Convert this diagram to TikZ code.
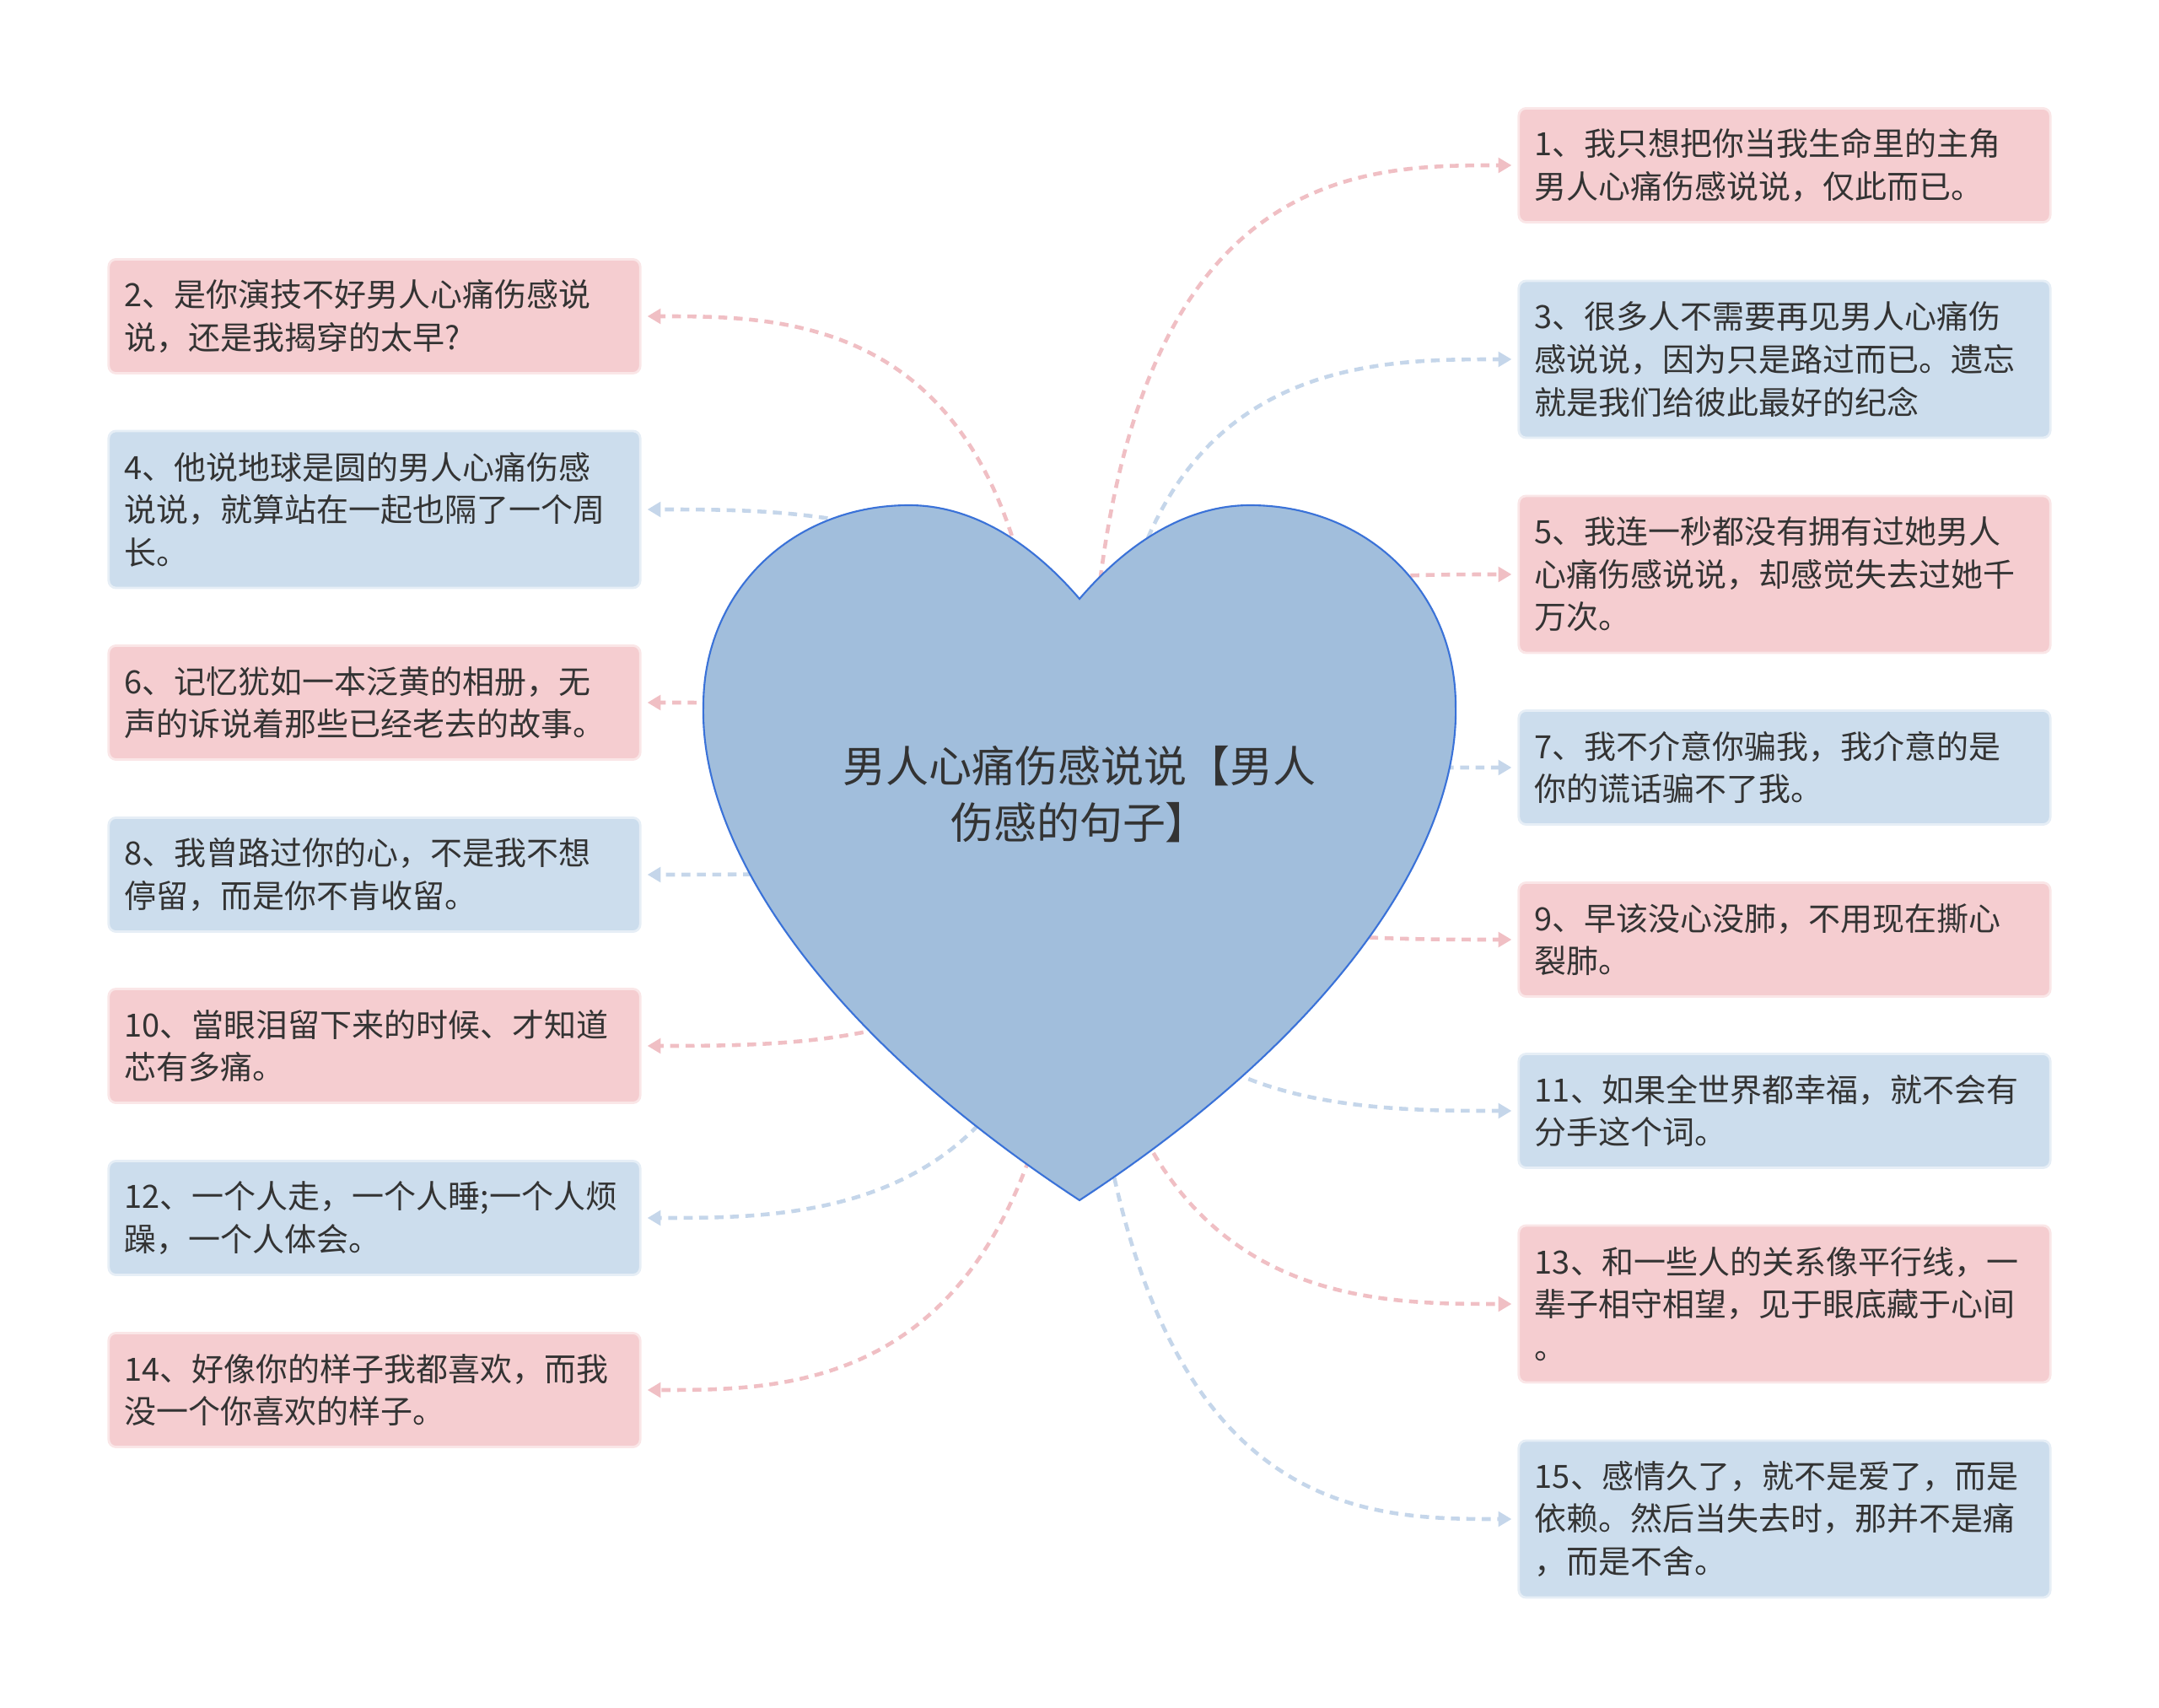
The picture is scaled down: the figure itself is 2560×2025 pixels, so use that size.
\documentclass[tikz,border=0pt]{standalone}
\usepackage{fontspec}
\newfontfamily\cjk{Noto Sans CJK SC}
\usetikzlibrary{arrows.meta,backgrounds,calc}
\definecolor{pinkbox}{HTML}{F5CDD0}
\definecolor{bluebox}{HTML}{CCDDED}
\definecolor{pinkline}{HTML}{F0BFC4}
\definecolor{blueline}{HTML}{C5D6EA}
\definecolor{heartfill}{HTML}{A1BEDC}
\definecolor{heartline}{HTML}{3A72D8}
\definecolor{txt}{HTML}{333333}
\begin{document}
\begin{tikzpicture}[x=0.01cm,y=-0.01cm,
    box/.style={rounded corners=2.5pt,text width=5.92cm,inner xsep=0.19cm,inner ysep=0pt,align=left,
        font=\cjk\fontsize{10.8pt}{14.4pt}\selectfont,text=txt,line width=0.8pt},
    two/.style={minimum height=1.35cm},
    three/.style={minimum height=1.86cm},
    pinkb/.style={box,fill=pinkbox,draw=pinkbox!50!white},
    blueb/.style={box,fill=bluebox,draw=bluebox!50!white},
    link/.style={line width=1.3pt,dash pattern=on 3pt off 2.2pt,-{Triangle[length=4.5pt,width=5pt]},shorten >=2pt}]
    \useasboundingbox (0,0) rectangle (2560,2025);
    \node [pinkb,two] (b1) at (2116,196) {1、我只想把你当我生命里的主角\\男人心痛伤感说说，仅此而已。};
    \node [blueb,three] (b3) at (2116,426) {3、很多人不需要再见男人心痛伤\\感说说，因为只是路过而已。遗忘\\就是我们给彼此最好的纪念};
    \node [pinkb,three] (b5) at (2116,681) {5、我连一秒都没有拥有过她男人\\心痛伤感说说，却感觉失去过她千\\万次。};
    \node [blueb,two] (b7) at (2116,910) {7、我不介意你骗我，我介意的是\\你的谎话骗不了我。};
    \node [pinkb,two] (b9) at (2116,1114) {9、早该没心没肺，不用现在撕心\\裂肺。};
    \node [blueb,two] (b11) at (2116,1317) {11、如果全世界都幸福，就不会有\\分手这个词。};
    \node [pinkb,three] (b13) at (2116,1546) {13、和一些人的关系像平行线，一\\辈子相守相望，见于眼底藏于心间\\。};
    \node [blueb,three] (b15) at (2116,1801) {15、感情久了，就不是爱了，而是\\依赖。然后当失去时，那并不是痛\\，而是不舍。};
    \node [pinkb,two] (b2) at (444,375) {2、是你演技不好男人心痛伤感说\\说，还是我揭穿的太早?};
    \node [blueb,three] (b4) at (444,604) {4、他说地球是圆的男人心痛伤感\\说说，就算站在一起也隔了一个周\\长。};
    \node [pinkb,two] (b6) at (444,833) {6、记忆犹如一本泛黄的相册，无\\声的诉说着那些已经老去的故事。};
    \node [blueb,two] (b8) at (444,1037) {8、我曾路过你的心，不是我不想\\停留，而是你不肯收留。};
    \node [pinkb,two] (b10) at (444,1240) {10、當眼泪留下来的时候、才知道\\芯有多痛。};
    \node [blueb,two] (b12) at (444,1444) {12、一个人走，一个人睡;一个人烦\\躁，一个人体会。};
    \node [pinkb,two] (b14) at (444,1648) {14、好像你的样子我都喜欢，而我\\没一个你喜欢的样子。};
    \draw [fill=heartfill,draw=heartline,line width=0.6pt] (1280,710)
        .. controls (1340,640) and (1410,599) .. (1482,599)
        .. controls (1620,599) and (1726,700) .. (1726,837)
        .. controls (1730,1000) and (1590,1220) .. (1280,1423)
        .. controls (970,1220) and (830,1000) .. (834,837)
        .. controls (834,700) and (940,599) .. (1078,599)
        .. controls (1150,599) and (1220,640) .. (1280,710) -- cycle;
    \node [align=center,text=txt,font=\cjk\fontsize{14.5pt}{19pt}\selectfont] (heart) at (1280,942) {男人心痛伤感说说【男人\\伤感的句子】};
    \coordinate (h) at (heart.center);
    \coordinate (h1) at ($(heart.center)+(10,0)$);
    \coordinate (h2) at ($(heart.center)+(-40,0)$);
    \coordinate (h3) at ($(heart.center)+(30,0)$);
    \begin{pgfonlayer}{background}
    \draw [link,pinkline] (h1) .. controls (h1 |- b1.west) and ($(h1 |- b1.west)!0.6!(b1.west)$) .. (b1.west);
    \draw [link,blueline] (h3) .. controls (h3 |- b3.west) and ($(h3 |- b3.west)!0.6!(b3.west)$) .. (b3.west);
    \draw [link,pinkline] (h) .. controls (h |- b5.west) and ($(h |- b5.west)!0.6!(b5.west)$) .. (b5.west);
    \draw [link,blueline] (h) .. controls (h |- b7.west) and ($(h |- b7.west)!0.6!(b7.west)$) .. (b7.west);
    \draw [link,pinkline] (h) .. controls (h |- b9.west) and ($(h |- b9.west)!0.6!(b9.west)$) .. (b9.west);
    \draw [link,blueline] (h) .. controls (h |- b11.west) and ($(h |- b11.west)!0.6!(b11.west)$) .. (b11.west);
    \draw [link,pinkline] (h) .. controls (h |- b13.west) and ($(h |- b13.west)!0.6!(b13.west)$) .. (b13.west);
    \draw [link,blueline] (h) .. controls (h |- b15.west) and ($(h |- b15.west)!0.6!(b15.west)$) .. (b15.west);
    \draw [link,pinkline] (h2) .. controls (h2 |- b2.east) and ($(h2 |- b2.east)!0.6!(b2.east)$) .. (b2.east);
    \draw [link,blueline] (h) .. controls (h |- b4.east) and ($(h |- b4.east)!0.6!(b4.east)$) .. (b4.east);
    \draw [link,pinkline] (h) .. controls (h |- b6.east) and ($(h |- b6.east)!0.6!(b6.east)$) .. (b6.east);
    \draw [link,blueline] (h) .. controls (h |- b8.east) and ($(h |- b8.east)!0.6!(b8.east)$) .. (b8.east);
    \draw [link,pinkline] (h) .. controls (h |- b10.east) and ($(h |- b10.east)!0.6!(b10.east)$) .. (b10.east);
    \draw [link,blueline] (h) .. controls (h |- b12.east) and ($(h |- b12.east)!0.6!(b12.east)$) .. (b12.east);
    \draw [link,pinkline] (h) .. controls (h |- b14.east) and ($(h |- b14.east)!0.6!(b14.east)$) .. (b14.east);
    \end{pgfonlayer}
\end{tikzpicture}
\end{document}
